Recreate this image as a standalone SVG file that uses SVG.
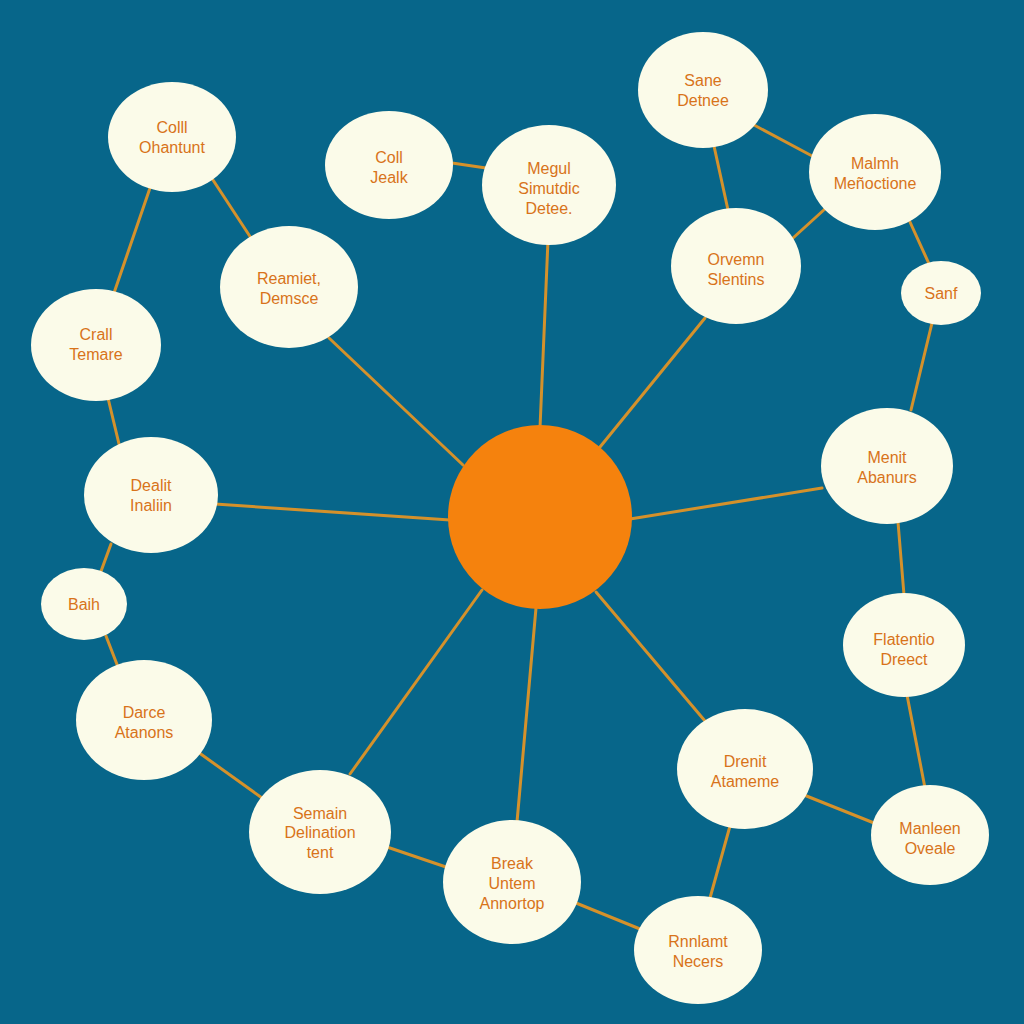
<svg xmlns="http://www.w3.org/2000/svg" width="1024" height="1024" viewBox="0 0 1024 1024">
<style>
.bg{fill:#07668a}
.n{fill:#fbfbe9}
.hub{fill:#f5820d}
.e{stroke:#d4912b;stroke-width:3;stroke-linecap:round;fill:none}
.t{font-family:"Liberation Sans",Arial,sans-serif;font-size:16px;fill:#d8731a;text-anchor:middle;dominant-baseline:central}
</style>
<rect class="bg" width="1024" height="1024"/>
<g id="connectors">
<line class="e" x1="329" y1="338" x2="463" y2="465"/>
<line class="e" x1="548" y1="240" x2="540" y2="428"/>
<line class="e" x1="705" y1="318" x2="600" y2="447"/>
<line class="e" x1="822" y1="488" x2="630" y2="519"/>
<line class="e" x1="705" y1="721" x2="596" y2="592"/>
<line class="e" x1="517" y1="822" x2="536" y2="608"/>
<line class="e" x1="350" y1="774" x2="482" y2="590"/>
<line class="e" x1="215" y1="504" x2="450" y2="520"/>
<line class="e" x1="150" y1="188" x2="114" y2="293"/>
<line class="e" x1="213" y1="180" x2="251" y2="238"/>
<line class="e" x1="452" y1="163" x2="486" y2="168"/>
<line class="e" x1="754" y1="125" x2="814" y2="157"/>
<line class="e" x1="714" y1="146" x2="728" y2="210"/>
<line class="e" x1="826" y1="208" x2="793" y2="238"/>
<line class="e" x1="910" y1="222" x2="930" y2="266"/>
<line class="e" x1="932" y1="323" x2="911" y2="410"/>
<line class="e" x1="898" y1="522" x2="904" y2="595"/>
<line class="e" x1="907" y1="695" x2="925" y2="788"/>
<line class="e" x1="804" y1="795" x2="874" y2="823"/>
<line class="e" x1="730" y1="826" x2="710" y2="898"/>
<line class="e" x1="576" y1="903" x2="640" y2="929"/>
<line class="e" x1="387" y1="847" x2="446" y2="867"/>
<line class="e" x1="198" y1="752" x2="262" y2="798"/>
<line class="e" x1="106" y1="636" x2="118" y2="667"/>
<line class="e" x1="111" y1="544" x2="100" y2="574"/>
<line class="e" x1="108" y1="398" x2="119" y2="444"/>
</g>
<g id="hub"><circle class="hub" cx="540" cy="517" r="92"/></g>
<g id="n1"><ellipse class="n" cx="172" cy="137" rx="64" ry="55"/><text class="t" x="172" y="127">Colll</text><text class="t" x="172" y="147">Ohantunt</text></g>
<g id="n2"><ellipse class="n" cx="96" cy="345" rx="65" ry="56"/><text class="t" x="96" y="334">Crall</text><text class="t" x="96" y="354">Temare</text></g>
<g id="n3"><ellipse class="n" cx="289" cy="287" rx="69" ry="61"/><text class="t" x="289" y="278">Reamiet,</text><text class="t" x="289" y="298">Demsce</text></g>
<g id="n4"><ellipse class="n" cx="389" cy="165" rx="64" ry="54"/><text class="t" x="389" y="157">Coll</text><text class="t" x="389" y="177">Jealk</text></g>
<g id="n5"><ellipse class="n" cx="549" cy="185" rx="67" ry="60"/><text class="t" x="549" y="168">Megul</text><text class="t" x="549" y="188">Simutdic</text><text class="t" x="549" y="208">Detee.</text></g>
<g id="n6"><ellipse class="n" cx="703" cy="90" rx="65" ry="58"/><text class="t" x="703" y="80">Sane</text><text class="t" x="703" y="100">Detnee</text></g>
<g id="n7"><ellipse class="n" cx="875" cy="172" rx="66" ry="58"/><text class="t" x="875" y="163">Malmh</text><text class="t" x="875" y="183">Meñoctione</text></g>
<g id="n8"><ellipse class="n" cx="736" cy="266" rx="65" ry="58"/><text class="t" x="736" y="259">Orvemn</text><text class="t" x="736" y="279">Slentins</text></g>
<g id="n9"><ellipse class="n" cx="941" cy="293" rx="40" ry="32"/><text class="t" x="941" y="293">Sanf</text></g>
<g id="n10"><ellipse class="n" cx="887" cy="466" rx="66" ry="58"/><text class="t" x="887" y="457">Menit</text><text class="t" x="887" y="477">Abanurs</text></g>
<g id="n11"><ellipse class="n" cx="904" cy="645" rx="61" ry="52"/><text class="t" x="904" y="639">Flatentio</text><text class="t" x="904" y="659">Dreect</text></g>
<g id="n12"><ellipse class="n" cx="151" cy="495" rx="67" ry="58"/><text class="t" x="151" y="485">Dealit</text><text class="t" x="151" y="505">Inaliin</text></g>
<g id="n13"><ellipse class="n" cx="84" cy="604" rx="43" ry="36"/><text class="t" x="84" y="604">Baih</text></g>
<g id="n14"><ellipse class="n" cx="144" cy="720" rx="68" ry="60"/><text class="t" x="144" y="712">Darce</text><text class="t" x="144" y="732">Atanons</text></g>
<g id="n15"><ellipse class="n" cx="320" cy="832" rx="71" ry="62"/><text class="t" x="320" y="813">Semain</text><text class="t" x="320" y="832">Delination</text><text class="t" x="320" y="852">tent</text></g>
<g id="n16"><ellipse class="n" cx="512" cy="882" rx="69" ry="62"/><text class="t" x="512" y="863">Break</text><text class="t" x="512" y="883">Untem</text><text class="t" x="512" y="903">Annortop</text></g>
<g id="n17"><ellipse class="n" cx="745" cy="769" rx="68" ry="60"/><text class="t" x="745" y="761">Drenit</text><text class="t" x="745" y="781">Atameme</text></g>
<g id="n18"><ellipse class="n" cx="930" cy="835" rx="59" ry="50"/><text class="t" x="930" y="828">Manleen</text><text class="t" x="930" y="848">Oveale</text></g>
<g id="n19"><ellipse class="n" cx="698" cy="950" rx="64" ry="54"/><text class="t" x="698" y="941">Rnnlamt</text><text class="t" x="698" y="961">Necers</text></g>
</svg>
